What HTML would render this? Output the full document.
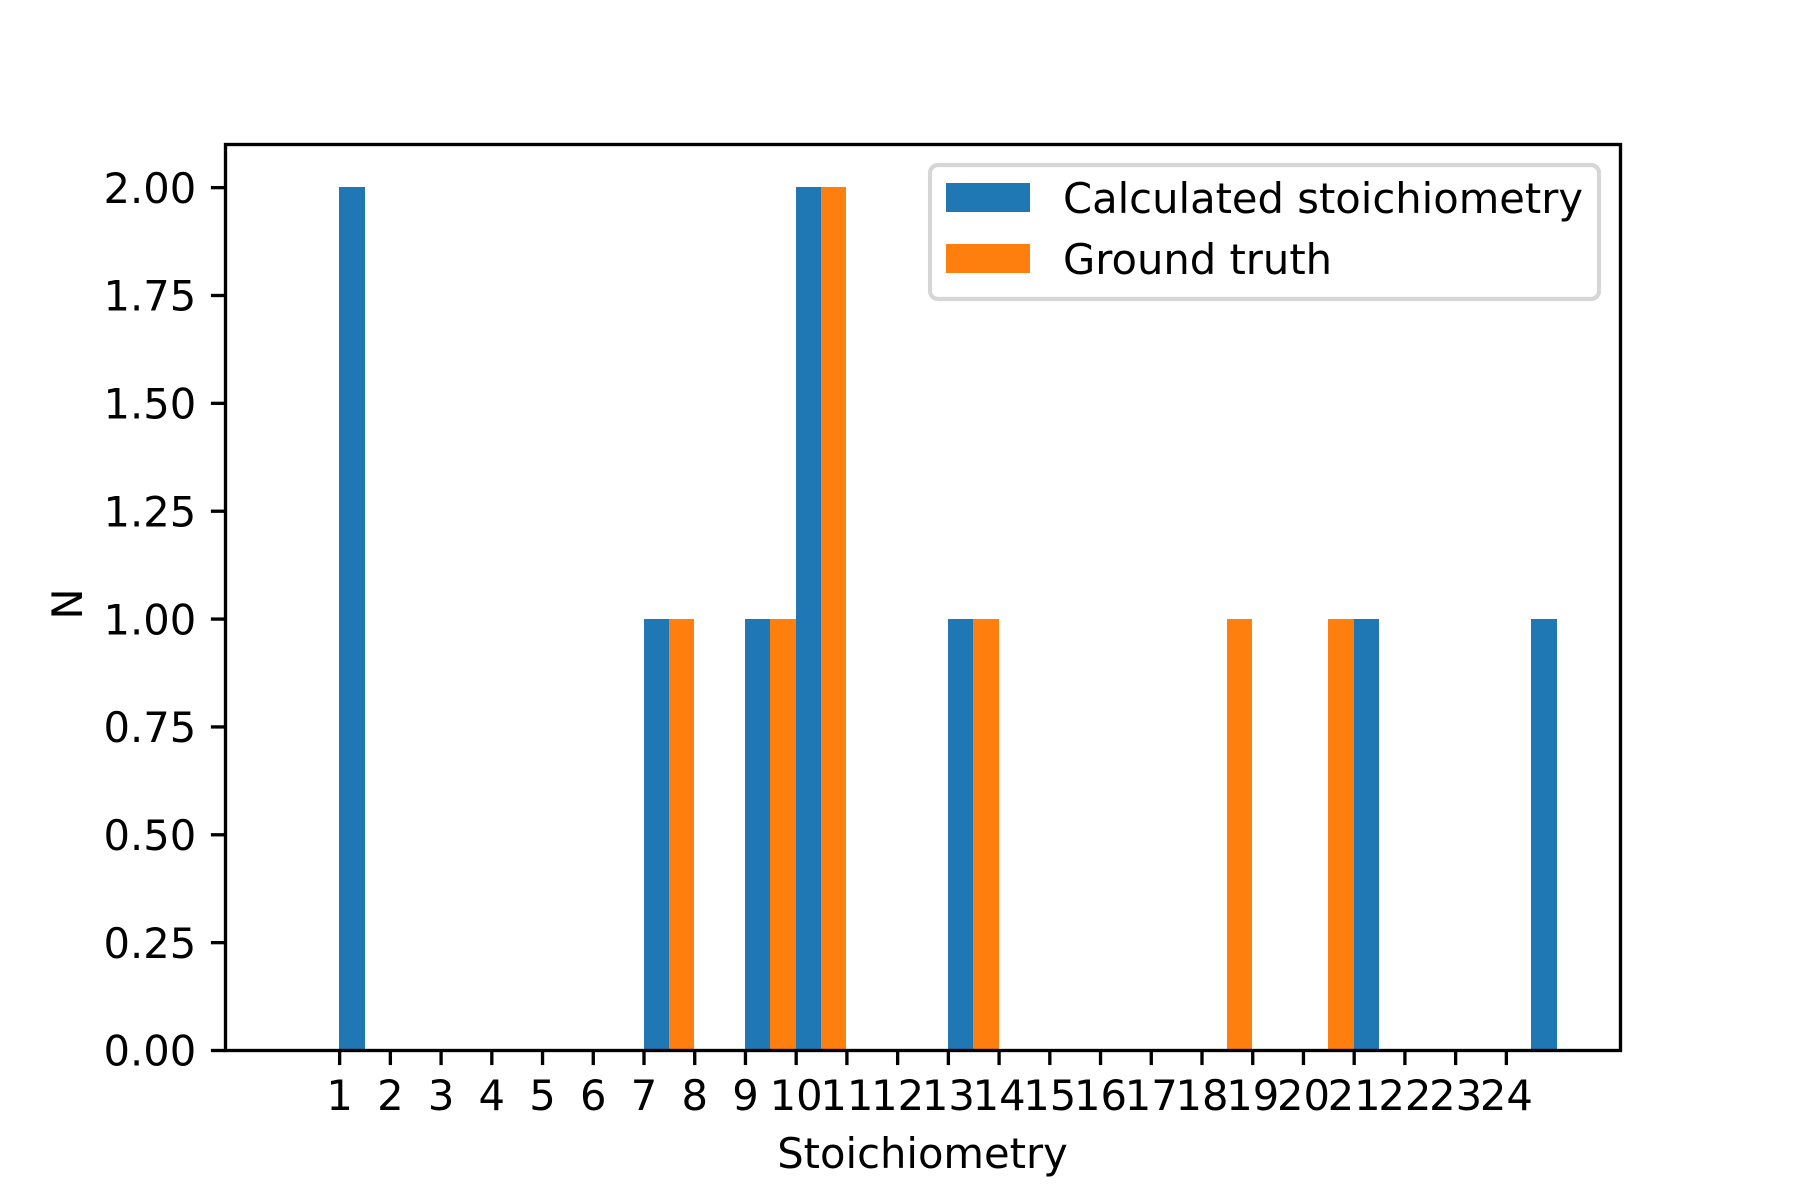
<!DOCTYPE html>
<html>
<head>
<meta charset="utf-8">
<style>
html,body{margin:0;padding:0;background:#fff;}
svg{display:block;}
text{font-family:"DejaVu Sans","Liberation Sans",sans-serif;font-size:41.67px;fill:#000;}
</style>
</head>
<body>
<svg id="chart" xmlns="http://www.w3.org/2000/svg" width="1800" height="1200" viewBox="0 0 1800 1200">
  <rect x="0" y="0" width="1800" height="1200" fill="#fff"/>
  <g id="bars"></g>
  <g id="x-axis"></g>
  <g id="y-axis"></g>
  <rect x="225.5" y="144.5" width="1395" height="906" fill="none" stroke="#000" stroke-width="3.33"/>
  <text x="922.5" y="1168" text-anchor="middle">Stoichiometry</text>
  <text transform="translate(82,604) rotate(-90)" text-anchor="middle">N</text>
  <g>
    <rect x="930" y="165" width="669" height="134" rx="8" ry="8" fill="#fff" fill-opacity="0.8" stroke="#d6d6d6" stroke-width="4.17"/>
    <rect x="946" y="183" width="84" height="29" fill="#1f77b4"/>
    <text x="1063" y="213">Calculated stoichiometry</text>
    <rect x="946" y="244" width="84" height="29" fill="#ff7f0e"/>
    <text x="1063" y="274">Ground truth</text>
  </g>
</svg>
<script>
const xTickLabels = ["1","2","3","4","5","6","7","8","9","10","11","12","13","14","15","16","17","18","19","20","21","22","23","24"];
const yTickLabels = ["0.00","0.25","0.50","0.75","1.00","1.25","1.50","1.75","2.00"];
const calculatedBins = [1, 7, 9, 10, 13, 21, 24.5];
const calculatedCounts = [2, 1, 1, 2, 1, 1, 1];
const truthBins = [7.5, 9.5, 10.5, 13.5, 18.5, 20.5];
const truthCounts = [1, 1, 2, 1, 1, 1];
const binWidth = 0.5;
const xDomain = [-1.25, 26.25];
const yDomain = [0, 2.1];

const NS = 'http://www.w3.org/2000/svg';
const plotLeft = 225.5, plotRight = 1620.5, plotTop = 144.5, plotBottom = 1050.5;
function xScale(v) {
  return plotLeft + (v - xDomain[0]) / (xDomain[1] - xDomain[0]) * (plotRight - plotLeft);
}
function yScale(v) {
  return plotBottom - (v - yDomain[0]) / (yDomain[1] - yDomain[0]) * (plotBottom - plotTop);
}
function make(tag, attrs) {
  const el = document.createElementNS(NS, tag);
  for (const k in attrs) el.setAttribute(k, attrs[k]);
  return el;
}
const barsGroup = document.getElementById('bars');
function drawSeries(bins, counts, color, name) {
  bins.forEach(function (b, i) {
    const x0 = Math.round(xScale(b) - 0.5);
    const x1 = Math.round(xScale(b + binWidth) - 0.5);
    const y1 = Math.round(yScale(counts[i]) - 0.5);
    const y0 = Math.round(yScale(0));
    const r = make('rect', { x: x0, y: y1, width: x1 - x0, height: y0 - y1, fill: color });
    
    
    barsGroup.appendChild(r);
  });
}
drawSeries(calculatedBins, calculatedCounts, '#1f77b4', 'calculated');
drawSeries(truthBins, truthCounts, '#ff7f0e', 'ground-truth');

const xAxisGroup = document.getElementById('x-axis');
xTickLabels.forEach(function (label) {
  const x = xScale(Number(label));
  const t = make('line', { x1: x, x2: x, y1: plotBottom, y2: plotBottom + 14.6, stroke: '#000', 'stroke-width': 3.33 });
  
  
  xAxisGroup.appendChild(t);
  const l = make('text', { x: x, y: 1110, 'text-anchor': 'middle' });
  
  
  l.textContent = label;
  xAxisGroup.appendChild(l);
});

const yAxisGroup = document.getElementById('y-axis');
yTickLabels.forEach(function (label) {
  const y = yScale(Number(label));
  const t = make('line', { x1: plotLeft - 14.6, x2: plotLeft, y1: y, y2: y, stroke: '#000', 'stroke-width': 3.33 });
  
  
  yAxisGroup.appendChild(t);
  const l = make('text', { x: plotLeft - 29.2, y: y + 15.2, 'text-anchor': 'end' });
  
  
  l.textContent = label;
  yAxisGroup.appendChild(l);
});
</script>
</body>
</html>
